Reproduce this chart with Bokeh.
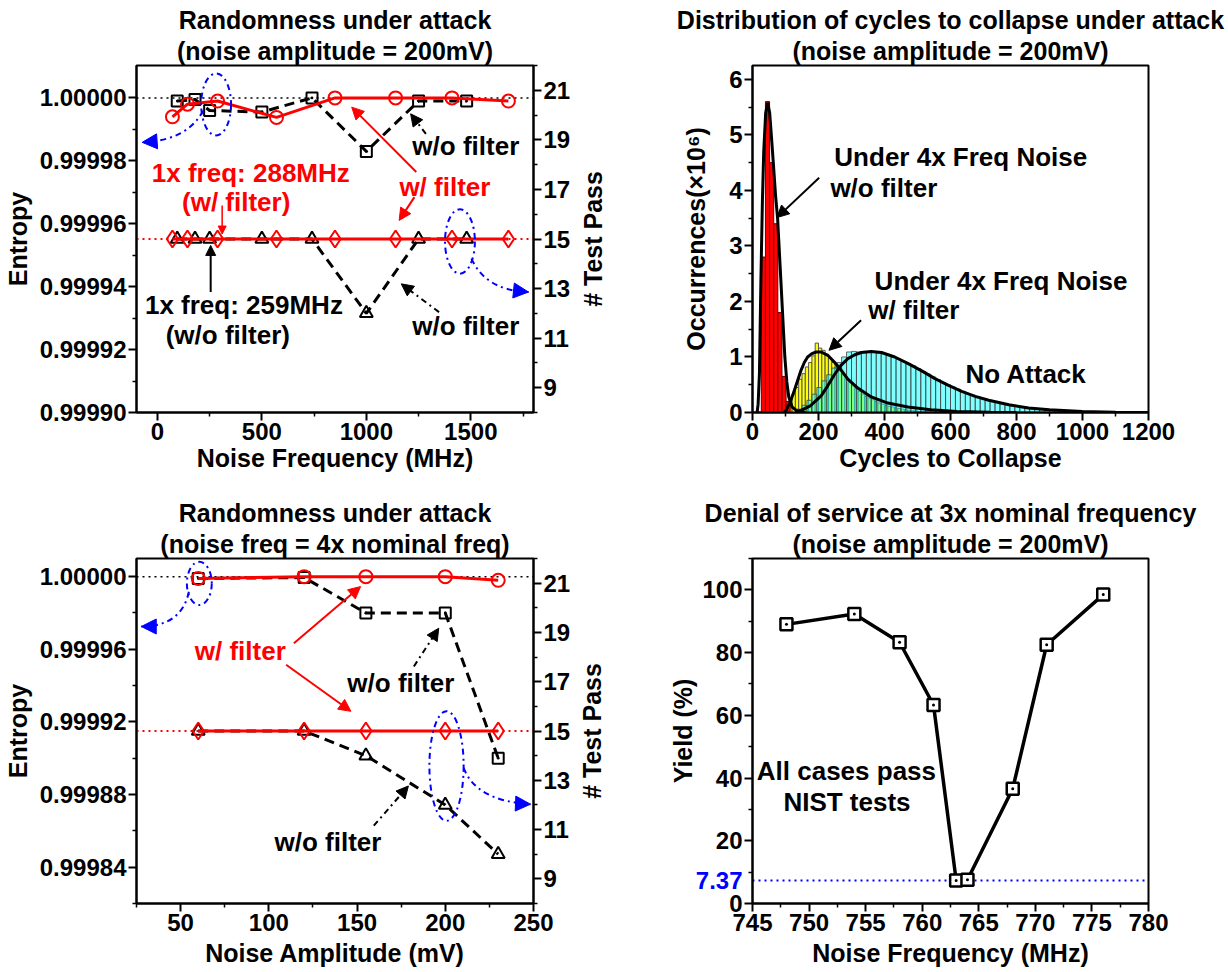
import math
from bokeh.plotting import figure
from bokeh.models import (Range1d, LinearAxis, FixedTicker, PrintfTickFormatter,
                          Label, Arrow, NormalHead, Title, Span)
from bokeh.layouts import gridplot
from bokeh.embed import file_html
from bokeh.resources import INLINE

FONT = "Liberation Sans"

# ---------------- Panel A: randomness vs noise frequency ----------------
a_wo_freq = [95, 180, 250, 500, 740, 1000, 1250, 1480]
a_wo_entropy = [0.999999, 0.9999995, 0.999996, 0.9999955, 1.0, 0.999983, 0.999999, 0.999999]
a_wo_pass = [15, 15, 15, 15, 15, 12, 15, 15]
a_w_freq = [72, 144, 288, 570, 850, 1140, 1410, 1680]
a_w_entropy = [0.999994, 0.999998, 0.999999, 0.9999938, 1.0, 1.0, 1.0, 0.999999]
a_w_pass = [15, 15, 15, 15, 15, 15, 15, 15]
a_x_ticks = [0, 500, 1000, 1500]
a_x_minor = [250, 750, 1250, 1750]
a_y_ticks = [0.99990, 0.99992, 0.99994, 0.99996, 0.99998, 1.00000]
a_y_minor = [0.99991, 0.99993, 0.99995, 0.99997, 0.99999]
pass_ticks = [9, 11, 13, 15, 17, 19, 21]
pass_minor = [8, 10, 12, 14, 16, 18, 20, 22]

# ---------------- Panel B: histogram of cycles to collapse ----------------
red_centers = [33, 45.5, 58, 70.5, 83, 95.5, 108]
red_counts = [2.8, 5.6, 4.5, 3.4, 1.8, 0.65, 0.2]
yellow_centers = [105, 115, 125, 135, 145, 155, 165, 175, 185, 195, 205, 215, 225, 235,
                  245, 255, 265, 275, 285, 295, 305, 315, 325, 335, 345, 355, 365, 375,
                  385, 395, 405, 415, 425, 435, 445, 455, 465, 475, 485, 495]
yellow_counts = [0.1, 0.2, 0.33, 0.45, 0.6, 0.7, 0.82, 0.9, 1.02, 1.25, 1.16, 1.12, 1.05, 0.98,
                 0.9, 0.82, 0.75, 0.68, 0.6, 0.54, 0.48, 0.43, 0.38, 0.33, 0.29, 0.26, 0.23, 0.2,
                 0.17, 0.15, 0.13, 0.11, 0.1, 0.08, 0.07, 0.06, 0.05, 0.04, 0.03, 0.03]
cyan_centers = [142.5, 157.5, 172.5, 187.5, 202.5, 217.5, 232.5, 247.5, 262.5, 277.5,
                292.5, 307.5, 322.5, 337.5, 352.5, 367.5, 382.5, 397.5, 412.5, 427.5,
                442.5, 457.5, 472.5, 487.5, 502.5, 517.5, 532.5, 547.5, 562.5, 577.5,
                592.5, 607.5, 622.5, 637.5, 652.5, 667.5, 682.5, 697.5, 712.5, 727.5,
                742.5, 757.5, 772.5, 787.5, 802.5, 817.5, 832.5, 847.5, 862.5, 877.5,
                892.5, 907.5, 922.5, 937.5, 952.5, 967.5, 982.5, 997.5]
cyan_counts = [0.06, 0.13, 0.22, 0.33, 0.45, 0.57, 0.68, 0.8, 0.9, 1.0,
               1.09, 1.1, 1.09, 1.1, 1.1, 1.09, 1.07, 1.06, 1.03, 1.0,
               0.96, 0.92, 0.88, 0.84, 0.79, 0.74, 0.69, 0.64, 0.59, 0.54,
               0.5, 0.46, 0.42, 0.38, 0.34, 0.31, 0.28, 0.25, 0.22, 0.2,
               0.18, 0.16, 0.14, 0.12, 0.11, 0.09, 0.08, 0.07, 0.06, 0.05,
               0.04, 0.035, 0.03, 0.025, 0.02, 0.015, 0.01, 0.01]
red_fit_x = [14, 17, 21, 25.5, 30, 34, 40, 46, 52, 57, 63, 70, 76, 84, 91, 98, 104, 110, 120, 135, 160]
red_fit_y = [0, 0.15, 0.7, 2.4, 3.8, 4.7, 5.4, 5.58, 5.4, 5.0, 4.5, 3.9, 3.5, 2.6, 1.8, 1.0, 0.55, 0.28, 0.1, 0.03, 0]
yel_fit_x = [95, 102, 115, 127, 137, 147, 157, 167, 180, 193, 208, 228, 248, 269, 289, 319,
             360, 410, 471, 540, 620, 720, 800]
yel_fit_y = [0, 0.04, 0.2, 0.4, 0.58, 0.76, 0.9, 1.0, 1.06, 1.09, 1.09, 1.03, 0.91, 0.76, 0.6, 0.44,
             0.28, 0.17, 0.1, 0.05, 0.02, 0.005, 0]
cyan_fit_x = [130, 147, 175, 208, 228, 248, 268, 289, 310, 330, 360, 391, 431, 472, 513, 553,
              594, 634, 675, 716, 777, 837, 900, 1000, 1100, 1200]
cyan_fit_y = [0, 0.04, 0.12, 0.3, 0.48, 0.68, 0.85, 0.97, 1.04, 1.08, 1.1, 1.08, 1.0, 0.88, 0.75, 0.61,
              0.49, 0.38, 0.29, 0.22, 0.14, 0.08, 0.05, 0.02, 0.005, 0]
b_x_ticks = [0, 200, 400, 600, 800, 1000, 1200]
b_x_minor = [100, 300, 500, 700, 900, 1100]
b_y_ticks = [0, 1, 2, 3, 4, 5, 6]
b_y_minor = [0.5, 1.5, 2.5, 3.5, 4.5, 5.5]

# ---------------- Panel C: randomness vs noise amplitude ----------------
c_amp = [60, 120, 155, 200, 230]
c_wo_entropy = [0.999999, 0.9999995, 0.99998, 0.99998, 0.99990]
c_wo_pass = [15, 15, 14, 12, 10]
c_w_entropy = [0.999999, 1.0, 1.0, 1.0, 0.999998]
c_w_pass = [15, 15, 15, 15, 15]
c_x_ticks = [50, 100, 150, 200, 250]
c_x_minor = [25, 75, 125, 175, 225]
c_y_ticks = [0.99984, 0.99988, 0.99992, 0.99996, 1.00000]
c_y_minor = [0.99982, 0.99986, 0.99990, 0.99994, 0.99998]

# ---------------- Panel D: denial of service ----------------
d_freq = [748, 754, 758, 761, 763, 764, 768, 771, 776]
d_yield = [89.0, 92.3, 83.3, 63.3, 7.37, 7.6, 36.6, 82.5, 98.5]
d_min_yield = 7.37
d_x_ticks = [745, 750, 755, 760, 765, 770, 775, 780]
d_x_minor = [747.5, 752.5, 757.5, 762.5, 767.5, 772.5, 777.5]
d_y_ticks = [0, 20, 40, 60, 80, 100]
d_y_minor = [10, 30, 50, 70, 90, 110]

TICK_SIZE = "24px"
AXLAB_SIZE = "25px"
TITLE_SIZE = "25px"
ANN_SIZE = "26px"


def style_axis(ax, ticks, minor, lab_std=4, maj_std=2):
    ax.ticker = FixedTicker(ticks=ticks, minor_ticks=minor)
    ax.axis_line_width = 2
    ax.axis_line_color = "black"
    ax.major_tick_line_width = 2
    ax.minor_tick_line_width = 1.5
    ax.major_tick_in = 0
    ax.major_tick_out = 8
    ax.minor_tick_in = 0
    ax.minor_tick_out = 4
    ax.major_label_text_font = FONT
    ax.major_label_text_font_style = "bold"
    ax.major_label_text_font_size = TICK_SIZE
    ax.major_label_text_color = "black"
    ax.axis_label_text_font = FONT
    ax.axis_label_text_font_style = "bold"
    ax.axis_label_text_font_size = AXLAB_SIZE
    ax.axis_label_text_color = "black"
    ax.major_label_standoff = maj_std
    ax.axis_label_standoff = lab_std


def make_fig(w, h, xr, yr, left, right, top, bottom, line1, line2):
    p = figure(width=w, height=h, x_range=xr, y_range=yr, title=None,
               output_backend="svg", toolbar_location=None,
               min_border_left=left, min_border_right=right,
               min_border_top=top, min_border_bottom=bottom)
    p.grid.visible = False
    p.outline_line_color = "black"
    p.outline_line_width = 2
    p.outline_line_alpha = 1
    p.background_fill_color = "white"
    p.border_fill_color = "white"
    p.add_layout(Title(text=line2, align="center", text_font=FONT, text_font_size=TITLE_SIZE,
                       text_font_style="bold", text_color="black", standoff=2), "above")
    p.add_layout(Title(text=line1, align="center", text_font=FONT, text_font_size=TITLE_SIZE,
                       text_font_style="bold", text_color="black", standoff=0), "above")
    return p


def right_axis_title(p, x_edge, text, offset):
    # rotated label (reading bottom-to-top) in the right side panel
    p.add_layout(Label(x=x_edge, y=15, y_range_name="pass", x_offset=offset, text=text,
                       angle=math.pi / 2, text_align="center", text_baseline="middle",
                       text_font=FONT, text_font_style="bold", text_font_size=AXLAB_SIZE,
                       text_color="black"), "right")


def add_label(p, text, x, y, color, rname="default", align="center", size=ANN_SIZE):
    p.add_layout(Label(x=x, y=y, text=text, y_range_name=rname, text_align=align,
                       text_baseline="middle", text_font=FONT, text_font_style="bold",
                       text_font_size=size, text_color=color))


def add_arrow(p, x0, y0, x1, y1, color, dash="solid", rname="default", head=12, width=2):
    p.add_layout(Arrow(end=NormalHead(size=head, fill_color=color, line_color=color, line_width=1),
                       x_start=x0, y_start=y0, x_end=x1, y_end=y1, line_color=color,
                       line_width=width, line_dash=dash, y_range_name=rname))


def blue_callout(p, ex, ey, ew, eh, x0, y0, x1, y1, cx, cy, hx, hy):
    p.ellipse(x=[ex], y=[ey], width=[ew], height=[eh], fill_alpha=0, line_color="blue",
              line_dash="dashdot", line_width=2, y_range_name="pass")
    p.quadratic(x0=[x0], y0=[y0], x1=[x1], y1=[y1], cx=[cx], cy=[cy], line_color="blue",
                line_dash="dashdot", line_width=2, y_range_name="pass")
    p.add_layout(Arrow(end=NormalHead(size=15, fill_color="blue", line_color="blue"),
                       x_start=hx, y_start=hy, x_end=x1, y_end=y1, line_alpha=0,
                       y_range_name="pass"))


def entropy_panel(p, wo_x, wo_e, wo_p, w_x, w_e, w_p):
    p.line(wo_x, wo_e, line_color="black", line_width=3, line_dash="10 6")
    p.scatter(wo_x, wo_e, marker="square_dot", size=11, line_color="black", line_width=2,
              fill_alpha=0)
    p.line(wo_x, wo_p, line_color="black", line_width=3, line_dash="10 6", y_range_name="pass")
    p.scatter(wo_x, wo_p, marker="triangle", size=13, line_color="black", line_width=2,
              fill_alpha=0, y_range_name="pass")
    p.line(w_x, w_e, line_color="red", line_width=3)
    p.scatter(w_x, w_e, marker="circle", size=13, line_color="red", line_width=2,
              fill_alpha=0)
    p.line(w_x, w_p, line_color="red", line_width=3, y_range_name="pass")
    p.scatter(w_x, w_p, marker="diamond", size=17, line_color="red", line_width=2,
              fill_alpha=0, y_range_name="pass")
    p.add_layout(Span(location=1.0, dimension="width", line_color="black", line_dash="dotted",
                      line_width=1.5, level="underlay"))
    p.add_layout(Span(location=15, dimension="width", line_color="red", line_dash="dotted",
                      line_width=2, y_range_name="pass", level="underlay"))


# =================== Panel A ===================
pA = make_fig(614, 480, Range1d(-100, 1800), Range1d(0.99990, 1.0000103), 134, 81, 65, 68,
              "Randomness under attack", "(noise amplitude = 200mV)")
pA.extra_y_ranges = {"pass": Range1d(8, 22)}
axA_r = LinearAxis(y_range_name="pass")
pA.add_layout(axA_r, "right")
style_axis(pA.xaxis[0], a_x_ticks, a_x_minor, lab_std=1)
pA.xaxis[0].axis_label = "Noise Frequency (MHz)"
style_axis(pA.yaxis[0], a_y_ticks, a_y_minor, lab_std=5)
pA.yaxis[0].formatter = PrintfTickFormatter(format="%.5f")
pA.yaxis[0].axis_label = "Entropy"
style_axis(axA_r, pass_ticks, pass_minor)
right_axis_title(pA, 1800, "# Test Pass", 59)
entropy_panel(pA, a_wo_freq, a_wo_entropy, a_wo_pass, a_w_freq, a_w_entropy, a_w_pass)

blue_callout(pA, 281, 20.43, 143, 2.5, 219, 20.18, -73, 18.9, 143, 18.97, -20, 18.93)
blue_callout(pA, 1448, 14.9, 143, 2.6, 1503, 14.21, 1776, 12.86, 1571, 12.92, 1730, 12.9)
add_label(pA, "w/o filter", 1476, 18.74, "black", "pass")
add_arrow(pA, 1285, 19.24, 1212, 20.05, "black", "dashdot", "pass")
add_label(pA, "1x freq: 288MHz", 447, 17.67, "red", "pass")
add_label(pA, "(w/ filter)", 377, 16.49, "red", "pass")
add_arrow(pA, 310, 16.35, 310, 15.2, "red", "solid", "pass", head=8, width=1.5)
add_label(pA, "w/ filter", 1376, 17.09, "red", "pass")
add_arrow(pA, 1239, 17.70, 930, 20.32, "red", "solid", "pass")
add_arrow(pA, 1230, 16.69, 1157, 15.75, "red", "solid", "pass")
add_label(pA, "1x freq: 259MHz", 414, 12.32, "black", "pass")
add_label(pA, "(w/o filter)", 337, 11.11, "black", "pass")
add_arrow(pA, 255, 12.86, 255, 14.74, "black", "solid", "pass", head=10)
add_label(pA, "w/o filter", 1476, 11.47, "black", "pass")
add_arrow(pA, 1348, 12.05, 1167, 13.19, "black", "dashdot", "pass")

# =================== Panel B ===================
pB = make_fig(614, 480, Range1d(0, 1200), Range1d(0, 6.25), 138, 80, 65, 68,
              "Distribution of cycles to collapse under attack", "(noise amplitude = 200mV)")
style_axis(pB.xaxis[0], b_x_ticks, b_x_minor, lab_std=1)
pB.xaxis[0].axis_label = "Cycles to Collapse"
style_axis(pB.yaxis[0], b_y_ticks, b_y_minor, lab_std=16)
pB.yaxis[0].axis_label = "Occurrences(\u00d710\u2076)"
pB.vbar(x=yellow_centers, width=10, top=yellow_counts, fill_color="#ffff00",
        line_color="#555555", line_width=1)
pB.vbar(x=red_centers, width=12.5, top=red_counts, fill_color="#ff0000",
        line_color="#660000", line_width=1)
pB.vbar(x=cyan_centers, width=15, top=cyan_counts, fill_color="#00ffff", fill_alpha=0.5,
        line_color="#444444", line_alpha=0.8, line_width=1)
pB.line(red_fit_x, red_fit_y, line_color="black", line_width=3)
pB.line(yel_fit_x, yel_fit_y, line_color="black", line_width=3)
pB.line(cyan_fit_x, cyan_fit_y, line_color="black", line_width=3)
add_label(pB, "Under 4x Freq Noise", 248, 4.61, "black", align="left")
add_label(pB, "w/o filter", 236, 4.05, "black", align="left")
add_arrow(pB, 202, 4.23, 74, 3.51, "black")
add_label(pB, "Under 4x Freq Noise", 370, 2.36, "black", align="left")
add_label(pB, "w/ filter", 351, 1.84, "black", align="left")
add_arrow(pB, 329, 1.66, 232, 1.12, "black")
add_label(pB, "No Attack", 829, 0.70, "black")

# =================== Panel C ===================
pC = make_fig(614, 492, Range1d(25, 250), Range1d(0.99982, 1.00001), 135, 81, 77, 69,
              "Randomness under attack", "(noise freq = 4x nominal freq)")
pC.extra_y_ranges = {"pass": Range1d(8, 22)}
axC_r = LinearAxis(y_range_name="pass")
pC.add_layout(axC_r, "right")
style_axis(pC.xaxis[0], c_x_ticks, c_x_minor, lab_std=5)
pC.xaxis[0].axis_label = "Noise Amplitude (mV)"
style_axis(pC.yaxis[0], c_y_ticks, c_y_minor, lab_std=5)
pC.yaxis[0].formatter = PrintfTickFormatter(format="%.5f")
pC.yaxis[0].axis_label = "Entropy"
style_axis(axC_r, pass_ticks, pass_minor)
right_axis_title(pC, 250, "# Test Pass", 58)
entropy_panel(pC, c_amp, c_wo_entropy, c_wo_pass, c_amp, c_w_entropy, c_w_pass)

blue_callout(pC, 60.6, 20.99, 14.1, 1.75, 54.7, 20.65, 27.7, 19.24, 50.4, 19.24, 36, 19.24)
blue_callout(pC, 200.7, 13.58, 19.4, 4.45, 210.4, 13.51, 248.3, 12.03, 217.2, 12.17, 238, 12.06)
add_label(pC, "w/ filter", 83.8, 18.23, "red", "pass")
add_arrow(pC, 114.2, 18.56, 152, 20.86, "red", "solid", "pass")
add_arrow(pC, 109.8, 17.69, 146.5, 15.8, "red", "solid", "pass")
add_label(pC, "w/o filter", 174.8, 16.95, "black", "pass")
add_arrow(pC, 182.2, 17.62, 196.3, 19.17, "black", "dashdot", "pass")
add_label(pC, "w/o filter", 133.5, 10.48, "black", "pass")
add_arrow(pC, 159.5, 11.16, 179.1, 12.77, "black", "dashdot", "pass")

# =================== Panel D ===================
pD = make_fig(614, 492, Range1d(745, 780), Range1d(0, 110), 137, 80, 78, 69,
              "Denial of service at 3x nominal frequency", "(noise amplitude = 200mV)")
style_axis(pD.xaxis[0], d_x_ticks, d_x_minor, lab_std=5)
pD.xaxis[0].axis_label = "Noise Frequency (MHz)"
style_axis(pD.yaxis[0], d_y_ticks, d_y_minor, lab_std=2)
pD.yaxis[0].axis_label = "Yield (%)"
pD.add_layout(Span(location=d_min_yield, dimension="width", line_color="blue",
                   line_dash="dotted", line_width=2, level="underlay"))
pD.line(d_freq, d_yield, line_color="black", line_width=3.5)
pD.scatter(d_freq, d_yield, marker="square_dot", size=12, line_color="black", line_width=2.5,
           fill_color="white")
# blue minimum-yield label placed in the left side panel so it is not clipped to the frame
pD.add_layout(Label(x=745, y=d_min_yield, text="%.2f" % d_min_yield, x_offset=-10,
                    text_align="right", text_baseline="middle", text_font=FONT,
                    text_font_style="bold", text_font_size=TICK_SIZE, text_color="blue"),
              "left")
add_label(pD, "All cases pass", 753.3, 42.2, "black")
add_label(pD, "NIST tests", 753.35, 32.3, "black")

grid = gridplot([[pA, pB], [pC, pD]], toolbar_location=None)
open("out.html", "w").write(file_html(grid, INLINE))
